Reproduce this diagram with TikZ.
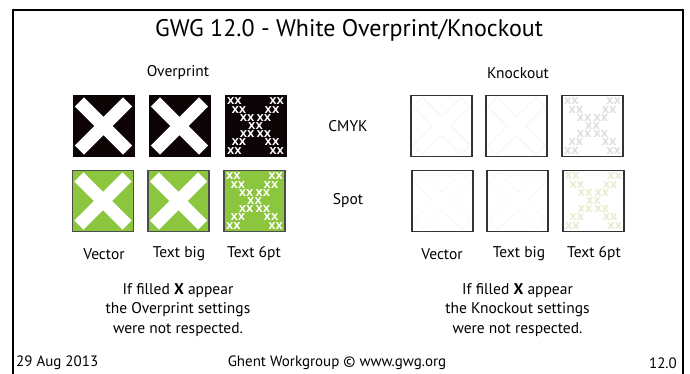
\documentclass[tikz,border=0pt]{standalone}
\usepackage{fontspec}
\setmainfont{PT Sans}
\newfontfamily\xfont{DejaVu Sans}
\usetikzlibrary{calc}
\definecolor{opgreen}{HTML}{8CC63F}
\definecolor{opblack}{HTML}{0B0304}
\definecolor{kofaint}{HTML}{EFEFEF}
\definecolor{kofaintg}{HTML}{F6F7F0}
\definecolor{kotextg}{HTML}{E6ECCF}
\newcommand\xshape{(6.5,6.5) -- (34,6.5) -- (34,-6.5) -- (6.5,-6.5) -- (6.5,-34) -- (-6.5,-34) -- (-6.5,-6.5) -- (-34,-6.5) -- (-34,6.5) -- (-6.5,6.5) -- (-6.5,34) -- (6.5,34) -- cycle}
\newcommand\drawX[2]{\begin{scope}[shift={(#1)},rotate=45]\path[#2] \xshape;\end{scope}}
\newcommand\smallX[2]{%
  \foreach \d/\n in {-24.6/a,-16.4/b,-8.2/c,8.2/e,16.4/f,24.6/g}{%
    \pgfmathsetmacro\rw{min(2*abs(\d)+15,57)}%
    \node[smallx,text=#2] (#1r\n) at ($(#1)+(0,\d)$) {\makebox[\rw pt]{XX\hfill XX}};}
  \node[smallx,text=#2] (#1rd) at (#1) {XX};}
\begin{document}
\begin{tikzpicture}[x=1pt,y=-1pt,
  box/.style={minimum size=61pt,inner sep=0,outer sep=0},
  blackbox/.style={box,fill=opblack,draw=opblack,line width=0.6pt},
  greenbox/.style={box,fill=opgreen,draw=black!70,line width=1.4pt},
  kobox/.style={box,fill=white,draw=black!80,line width=1.3pt},
  smallx/.style={inner sep=0,text height=7pt,text depth=0pt,font=\xfont\bfseries\fontsize{9.5}{9.5}\selectfont},
  lbl/.style={inner sep=0,font=\fontsize{15.5}{15.5}\selectfont},
  note/.style={inner sep=0,align=center,font=\fontsize{15.5}{19.4}\selectfont},
  foot/.style={inner sep=0,font=\fontsize{15}{15}\selectfont}]
\useasboundingbox (0,0) rectangle (690,374);
\fill[white] (0,0) rectangle (690,374);
\draw[line width=2pt] (13,380) -- (13,10) -- (683,10) -- (683,380);
\node[inner sep=0,font=\fontsize{24}{24}\selectfont] (title) at (349,30) {GWG 12.0 - White Overprint/Knockout};
% headers
\node[lbl] (hop) at (178,73) {Overprint};
\node[lbl] (hko) at (518,73) {Knockout};
\node[lbl] (cmyk) at (348,126) {CMYK};
\node[lbl] (spot) at (348,201) {Spot};
% overprint boxes
\node[blackbox] (op11) at (103.5,126) {};
\node[blackbox] (op12) at (179.5,126) {};
\node[blackbox] (op13) at (255.5,126) {};
\node[greenbox] (op21) at (103,201) {};
\node[greenbox] (op22) at (178.5,201) {};
\node[greenbox] (op23) at (254.5,201) {};
\drawX{op11}{fill=white}
\drawX{op12}{fill=white}
\drawX{op21}{fill=white}
\drawX{op22}{fill=white}
\smallX{op13}{white}
\smallX{op23}{white}
% knockout boxes
\node[kobox] (ko11) at (441.5,126) {};
\node[kobox] (ko12) at (516.5,126) {};
\node[kobox] (ko13) at (592.5,126) {};
\node[kobox] (ko21) at (442.5,201) {};
\node[kobox] (ko22) at (517.5,201) {};
\node[kobox] (ko23) at (593.5,201) {};
\drawX{ko11}{draw=kofaint,line width=0.5pt}
\drawX{ko12}{draw=kofaint,line width=0.5pt}
\drawX{ko21}{draw=kofaintg,line width=0.5pt}
\drawX{ko22}{draw=kofaintg,line width=0.5pt}
\smallX{ko13}{black!13}
\smallX{ko23}{kotextg}
% column labels
\node[lbl] (v1) at (104,254) {Vector};
\node[lbl] (t1) at (179,254) {Text big};
\node[lbl] (s1) at (254,254) {Text 6pt};
\node[lbl] (v2) at (442,254) {Vector};
\node[lbl] (t2) at (519,254) {Text big};
\node[lbl] (s2) at (594,254) {Text 6pt};
% notes
\node[note] (nop) at (178,310) {If filled \textbf{X} appear\\the Overprint settings\\were not respected.};
\node[note] (nko) at (517.5,310) {If filled \textbf{X} appear\\the Knockout settings\\were not respected.};
% footer
\node[foot,anchor=west] (date) at (16,363) {29 Aug 2013};
\node[foot] (gwg) at (337,363) {Ghent Workgroup © www.gwg.org};
\node[foot,anchor=east] (ver) at (677,363) {12.0};
\end{tikzpicture}
\end{document}
